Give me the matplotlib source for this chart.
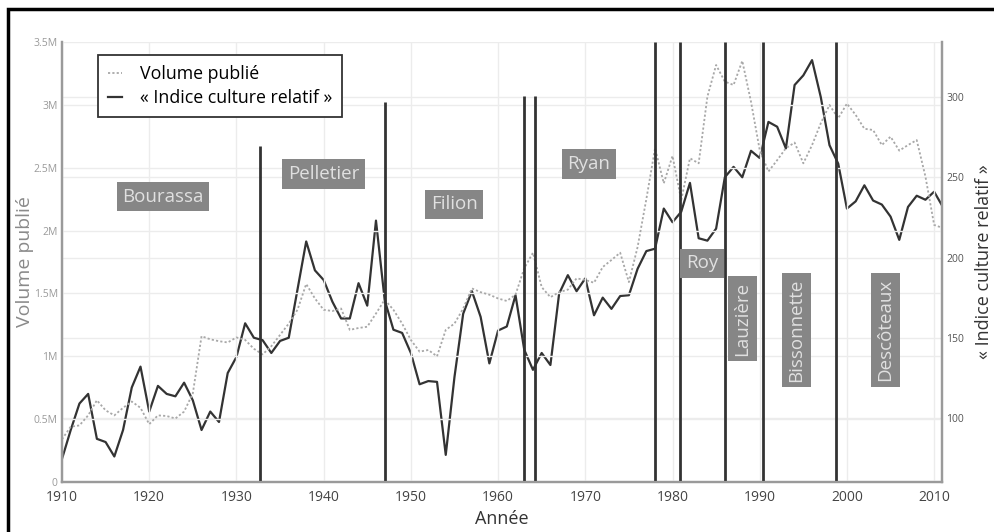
import numpy as np
import matplotlib
matplotlib.use('Agg')
import matplotlib.pyplot as plt
from matplotlib.lines import Line2D
from matplotlib.patches import Rectangle

plt.rcParams['font.family'] = ['Open Sans', 'DejaVu Sans']

years = list(range(1910, 2012))

# volume publié (millions)
volume = [0.34, 0.44, 0.45, 0.53, 0.65, 0.57, 0.53, 0.59, 0.64, 0.59,
          0.46, 0.53, 0.525, 0.505, 0.56, 0.705, 1.16, 1.135, 1.12, 1.11,
          1.15, 1.13, 1.06, 1.015, 1.08, 1.17, 1.26, 1.37, 1.575, 1.46,
          1.37, 1.36, 1.38, 1.21, 1.225, 1.235, 1.34, 1.45, 1.37, 1.26,
          1.13, 1.037, 1.05, 1.0, 1.21, 1.26, 1.38, 1.54, 1.51, 1.49,
          1.46, 1.44, 1.49, 1.70, 1.824, 1.55, 1.47, 1.51, 1.53, 1.62,
          1.607, 1.585, 1.71, 1.766, 1.824, 1.59, 1.87, 2.25, 2.655, 2.376,
          2.594, 2.243, 2.575, 2.535, 3.065, 3.317, 3.185, 3.158, 3.35, 3.025,
          2.64, 2.47, 2.56, 2.655, 2.70, 2.535, 2.68, 2.854, 2.999, 2.893,
          3.01, 2.92, 2.81, 2.80, 2.68, 2.747, 2.636, 2.68, 2.72, 2.43,
          2.045, 2.02]

# « indice culture relatif »
indice = [74.5, 92.5, 109, 115, 87, 85, 76, 92.5, 119, 132,
          104, 120, 115, 113.5, 122, 111, 92.5, 104, 97.5, 128,
          138, 159, 150, 148.5, 140.5, 148, 150, 180, 210, 192,
          186, 172.5, 162, 162, 184, 170, 223, 173.5, 155, 153,
          140.5, 121, 123, 122.5, 77, 125.5, 165, 179, 163, 134,
          154.5, 157, 176.5, 142.5, 130, 140.5, 133, 177.5, 189, 179,
          187, 164, 175, 168, 176, 176.5, 193, 204, 205.5, 230.5,
          222, 228.5, 246.5, 212, 210.5, 218, 250, 256.5, 250, 266.5,
          262, 284.5, 281.5, 268, 307.5, 313.5, 323, 300, 270, 258.5,
          230.5, 235, 245, 235.5, 233, 225.5, 211, 231.5, 238.5, 236,
          241, 231.5]

# changements de direction
change_years = [1932.65, 1947.0, 1963.0, 1964.2, 1978.0, 1980.9, 1986.0, 1990.35, 1998.75]
change_tops = [2.67, 3.02, 3.07, 3.07, 3.5, 3.5, 3.5, 3.5, 3.5]

names = ['Bourassa', 'Pelletier', 'Filion', 'Ryan', 'Roy',
         'Lauzière', 'Bissonnette', 'Descôteaux']
name_x = [1921.6, 1940.0, 1955.0, 1970.4, 1983.4, 1988.0, 1994.2, 2004.4]
name_y = [2.27, 2.45, 2.21, 2.53, 1.74, 1.30, 1.21, 1.21]
name_rot = [0, 0, 0, 0, 0, 90, 90, 90]

vol_ticks = [0, 0.5, 1, 1.5, 2, 2.5, 3, 3.5]
vol_labels = ['0', '0.5M', '1M', '1.5M', '2M', '2.5M', '3M', '3.5M']
ind_ticks = [100, 150, 200, 250, 300]
x_ticks = list(range(1910, 2011, 10))

fig = plt.figure(figsize=(9.94, 5.32), dpi=100)
ax1 = fig.add_axes([62 / 994, 50 / 532, 880 / 994, 440 / 532])
ax2 = ax1.twinx()
ax1.set_zorder(ax2.get_zorder() + 1)
ax1.patch.set_visible(False)

grid_c = '#ececec'
ax1.plot(years, volume, linestyle=(0, (1.2, 1.2)), color='#a8a8a8', lw=1.3)
ax2.plot(years, indice, color='#333333', lw=1.6)

ax1.vlines(change_years, 0, change_tops, color='#333333', lw=2.0)

for n, x, y, r in zip(names, name_x, name_y, name_rot):
    ax1.text(x, y, n, rotation=r, ha='center', va='center', fontsize=13.5,
             color='#e0e0e0',
             bbox=dict(boxstyle='square,pad=0.3', fc='#868686', ec='none'))

ax1.set_xlim(1910, 2010.9)
ax1.set_ylim(0, 3.5)
ax2.set_ylim(60.1, 334.3)

ax1.set_xticks(x_ticks)
ax1.set_yticks(vol_ticks)
ax1.set_yticklabels(vol_labels)
ax2.set_yticks(ind_ticks)

ax1.grid(True, color=grid_c, lw=1)
ax2.grid(True, axis='y', color=grid_c, lw=1)
ax1.set_axisbelow(True)
ax2.set_axisbelow(True)

ax1.tick_params(axis='x', length=0, pad=6, labelsize=10, labelcolor='#444444')
ax1.tick_params(axis='y', length=0, pad=3, labelsize=7.5, labelcolor='#9a9a9a')
ax2.tick_params(axis='y', length=0, pad=3, labelsize=7.5, labelcolor='#555555')

for ax in (ax1, ax2):
    ax.spines['top'].set_visible(False)
    for s in ('left', 'bottom', 'right'):
        ax.spines[s].set_color('#9a9a9a')
        ax.spines[s].set_linewidth(1.6)

ax1.set_xlabel('Année', fontsize=13, color='#333333')
ax1.xaxis.set_label_coords(0.5, -0.063)
ax1.set_ylabel('Volume publié', fontsize=14, color='#8a8a8a')
ax1.yaxis.set_label_coords(-0.032, 0.5)
ax2.set_ylabel('« Indice culture relatif »', fontsize=13, color='#333333',
               rotation=90)
ax2.yaxis.set_label_coords(1.037, 0.5)

handles = [Line2D([], [], linestyle=(0, (1.2, 1.2)), color='#a8a8a8', lw=1.3),
           Line2D([], [], color='#333333', lw=1.6)]
leg = ax1.legend(handles, ['Volume publié', '« Indice culture relatif »'],
                 loc='upper left', bbox_to_anchor=(36 / 880, 1 - 13 / 440),
                 fontsize=12.8, frameon=True, fancybox=False, framealpha=1,
                 edgecolor='#333333', handlelength=0.8, handletextpad=1.0,
                 borderpad=0.55, labelspacing=0.35, borderaxespad=0)
leg.get_frame().set_linewidth(1.3)

fig.patches.append(Rectangle((7.5 / 994, -0.1), 1.2, 1.1 - 8.5 / 532,
                             transform=fig.transFigure, fill=False,
                             ec='black', lw=2.5))

fig.savefig('out.png', dpi=100)
